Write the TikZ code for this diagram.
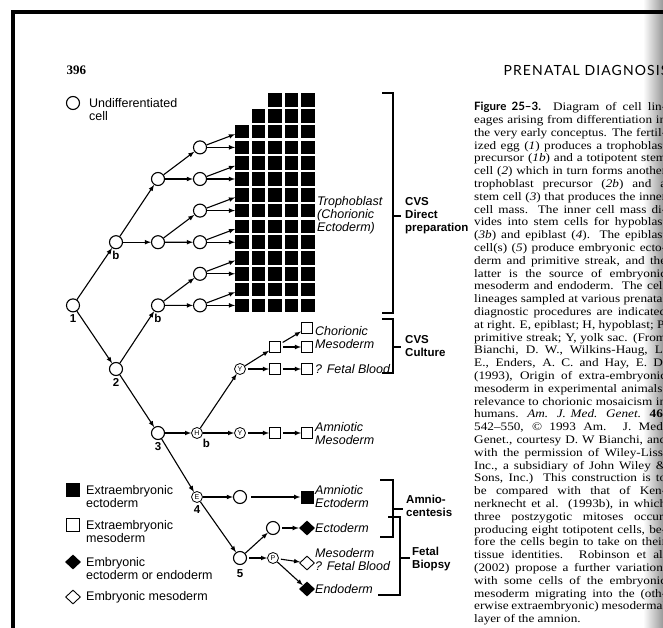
\documentclass[tikz,border=0pt]{standalone}
\usepackage{fontspec}
\setmainfont{Liberation Serif}
\setsansfont{Liberation Sans}
\newfontfamily\headfont[LetterSpace=8]{Lato}
\newfontfamily\figfont{Lato}
\newfontfamily\capfont[FakeStretch=1.15,Ligatures=TeX]{Liberation Serif}
\usetikzlibrary{shapes.geometric}

\def\capw{192pt}
\newcommand\capl[1]{\makebox[\capw][s]{#1}\\}

\tikzset{
  cell/.style={circle,draw,line width=1.1pt,minimum size=13pt,inner sep=0pt},
  tcell/.style={circle,draw,line width=0.8pt,minimum size=11pt,inner sep=0pt,font=\sffamily\fontsize{7}{7}\selectfont},
  ecto/.style={fill=black,minimum size=13.5pt,inner sep=0pt},
  meso/.style={draw,line width=0.9pt,minimum size=11pt,inner sep=0pt},
  embdia/.style={diamond,fill=black,minimum width=16pt,minimum height=15pt,inner sep=0pt},
  mesodia/.style={diamond,draw,line width=0.9pt,minimum width=15pt,minimum height=14pt,inner sep=0pt},
  num/.style={font=\sffamily\bfseries\fontsize{11.5}{11.5}\selectfont,inner sep=1pt},
  tis/.style={anchor=west,align=left,inner sep=0pt,font=\sffamily\itshape\fontsize{12.5}{13}\selectfont},
  proc/.style={anchor=west,align=left,inner sep=0pt,font=\sffamily\bfseries\fontsize{11.5}{13}\selectfont},
  legtxt/.style={anchor=west,align=left,inner sep=0pt,font=\sffamily\fontsize{12.5}{13}\selectfont},
  brk/.style={line width=1.4pt},
  lin/.style={->,line width=1.1pt}
}

\begin{document}
\begin{tikzpicture}[x=1pt,y=-1pt,>=latex]
\useasboundingbox (0,0) rectangle (663,628);
\shade[left color=white,right color=black!40] (643,0) rectangle (663,628);
\draw[line width=4pt] (13,628) -- (13,12) -- (663,12);

% page head
\node[anchor=west,font=\bfseries\fontsize{13}{13}\selectfont] (page) at (63,70) {396};
\node[anchor=west,font=\headfont\fontsize{14}{14}\selectfont] (head) at (500,70) {PRENATAL DIAGNOSIS};

% legend
\node[cell] (kcell) at (73,103) {};
\node[legtxt] at (89,109.5) {Undifferentiated\\cell};
\node[ecto] (kecto) at (73,490) {};
\node[legtxt] at (86,496.5) {Extraembryonic\\ectoderm};
\node[meso,minimum size=12.5pt] (kmeso) at (73,525) {};
\node[legtxt] at (86,531.5) {Extraembryonic\\mesoderm};
\node[embdia] (kemb) at (73,562) {};
\node[legtxt] at (86,568.5) {Embryonic\\ectoderm or endoderm};
\node[mesodia] (kmes) at (73,597) {};
\node[legtxt] at (86,597) {Embryonic mesoderm};

% trophoblast block
\foreach \c in {3,4,5} \node[ecto] (sq0-\c) at ({242+16.5*(\c-1)},100) {};
\foreach \c in {2,...,5} \node[ecto] (sq1-\c) at ({242+16.5*(\c-1)},115.8) {};
\foreach \r in {2,...,13}
  \foreach \c in {1,...,5}
    \node[ecto] (sq\r-\c) at ({242+16.5*(\c-1)},{100+15.8*\r}) {};

% cells
\node[cell,label={[num,label distance=1pt]below:1}] (n1) at (73,305.4) {};
\node[cell,label={[num,label distance=1pt]below:b}] (n1b) at (116,242.2) {};
\node[cell,label={[num,label distance=1pt]below:2}] (n2) at (116,369) {};
\node[cell,label={[num,label distance=1pt]below:b}] (n2b) at (158,305.4) {};
\node[cell,label={[num,label distance=1pt]below:3}] (n3) at (158,433) {};
\node[cell] (c1) at (158,179) {};
\node[cell] (c2) at (158,242.2) {};
\foreach \k in {1,...,6} \node[cell] (d\k) at (200,{100+15.8*(2*\k+1)}) {};

\node[tcell,label={[num,inner sep=0pt,label distance=2pt]below right:b}] (H) at (197,433) {H};
\node[tcell,label={[num,label distance=1pt]below:4}] (E) at (197,497) {E};
\node[tcell] (Y1) at (240,369) {Y};
\node[tcell] (Y2) at (240,433) {Y};
\node[cell] (e1) at (240,497) {};
\node[cell,label={[num,label distance=3pt]below:5}] (n5) at (240,558) {};
\node[cell] (f1) at (273,528) {};
\node[tcell] (P) at (273,558) {P};

% tissues
\node[meso] (q3) at (275,347) {};
\node[meso] (q4) at (307,347) {};
\node[meso] (q5) at (307,328) {};
\node[meso] (q1) at (275,369) {};
\node[meso] (q2) at (307,369) {};
\node[meso] (s1) at (275,433) {};
\node[meso] (s2) at (307,433) {};
\node[ecto,minimum size=13pt] (am) at (307,497) {};
\node[embdia] (ect) at (307,528) {};
\node[mesodia] (mes) at (307,563) {};
\node[embdia] (endo) at (307,589) {};

\node[tis] at (317,215) {Trophoblast\\(Chorionic\\Ectoderm)};
\node[tis] at (315,337.5) {Chorionic\\Mesoderm};
\node[tis] at (315,369) {? Fetal Blood};
\node[tis] at (315,433.5) {Amniotic\\Mesoderm};
\node[tis] at (315,497) {Amniotic\\Ectoderm};
\node[tis] at (315,528) {Ectoderm};
\node[tis] at (315,559.5) {Mesoderm\\? Fetal Blood};
\node[tis] at (315,589) {Endoderm};

% lineages
\draw[lin] (n1) -- (n1b);
\draw[lin] (n1) -- (n2);
\draw[lin] (n2) -- (n2b);
\draw[lin] (n2) -- (n3);
\draw[lin] (n1b) -- (c1);
\draw[lin] (n1b) -- (c2);
\draw[lin] (c1) -- (d1);
\draw[lin] (c1) -- (d2);
\draw[lin] (c2) -- (d3);
\draw[lin] (c2) -- (d4);
\draw[lin] (n2b) -- (d5);
\draw[lin] (n2b) -- (d6);
\foreach \k in {1,...,6}{
  \pgfmathtruncatemacro\ra{2*\k}
  \pgfmathtruncatemacro\rb{2*\k+1}
  \draw[lin] (d\k) -- (sq\ra-1);
  \draw[lin] (d\k) -- (sq\rb-1);
}
\draw[lin] (n3) -- (H);
\draw[lin] (n3) -- (E);
\draw[lin] (H) -- (Y1);
\draw[lin] (H) -- (Y2);
\draw[lin] (Y1) -- (q3);
\draw[lin,shorten <=2pt] (Y1) -- (q1);
\draw[lin,shorten <=2pt] (q1) -- (q2);
\draw[lin,shorten <=2pt] (q3) -- (q4);
\draw[lin,shorten <=2pt] (q3) -- (q5);
\draw[lin,shorten <=2pt] (Y2) -- (s1);
\draw[lin,shorten <=2pt] (s1) -- (s2);
\draw[lin] (E) -- (e1);
\draw[lin,shorten <=4pt] (e1) -- (am);
\draw[lin] (E) -- (n5);
\draw[lin] (n5) -- (f1);
\draw[lin,shorten <=2pt] (f1) -- (ect);
\draw[lin,shorten <=2pt] (n5) -- (P);
\draw[lin,shorten <=2pt] (P) -- (mes);
\draw[lin] (P) -- (endo);

% procedures
\draw[brk] (382,93) -- (393,93) -- (393,313) -- (382,313);
\draw[brk] (393,216) -- (401,216);
\node[proc] at (405,216) {CVS\\Direct\\preparation};
\draw[brk] (382,319) -- (393,319) -- (393,373) -- (382,373);
\draw[brk] (393,347) -- (401,347);
\node[proc] at (405,346) {CVS\\Culture};
\draw[brk] (380,480) -- (393,480) -- (393,537) -- (380,537);
\draw[brk] (393,509) -- (403,509);
\node[proc] at (406,506) {Amnio-\\centesis};
\draw[brk] (388,517) -- (400,517) -- (400,595) -- (378,595);
\draw[brk] (400,558) -- (410,558);
\node[proc] at (412,559) {Fetal\\Biopsy};

% caption
\node[anchor=north west,align=left,inner sep=0pt,font=\capfont\fontsize{11.5}{12.8}\selectfont] (cap) at (474,102) {%
\capl{{\figfont\bfseries Figure 25–3.}\ \ Diagram of cell lin-}
\capl{eages arising from differentiation in}
\capl{the very early conceptus. The fertil-}
\capl{ized egg (\textit{1}) produces a trophoblast}
\capl{precursor (\textit{1b}) and a totipotent stem}
\capl{cell (\textit{2}) which in turn forms another}
\capl{trophoblast precursor (\textit{2b}) and a}
\capl{stem cell (\textit{3}) that produces the inner}
\capl{cell mass. The inner cell mass di-}
\capl{vides into stem cells for hypoblast}
\capl{(\textit{3b}) and epiblast (\textit{4}). The epiblast}
\capl{cell(s) (\textit{5}) produce embryonic ecto-}
\capl{derm and primitive streak, and the}
\capl{latter is the source of embryonic}
\capl{mesoderm and endoderm. The cell}
\capl{lineages sampled at various prenatal}
\capl{diagnostic procedures are indicated}
\capl{at right. E, epiblast; H, hypoblast; P,}
\capl{primitive streak; Y, yolk sac. (From}
\capl{Bianchi, D. W., Wilkins-Haug, L.}
\capl{E., Enders, A. C. and Hay, E. D.}
\capl{(1993), Origin of extra-embryonic}
\capl{mesoderm in experimental animals:}
\capl{relevance to chorionic mosaicism in}
\capl{humans. \textit{Am. J. Med. Genet.} \textbf{46},}
\capl{542–550, © 1993 Am. J. Med.}
\capl{Genet., courtesy D. W Bianchi, and}
\capl{with the permission of Wiley-Liss,}
\capl{Inc., a subsidiary of John Wiley \&}
\capl{Sons, Inc.) This construction is to}
\capl{be compared with that of Ken-}
\capl{nerknecht et al. (1993b), in which}
\capl{three postzygotic mitoses occur,}
\capl{producing eight totipotent cells, be-}
\capl{fore the cells begin to take on their}
\capl{tissue identities. Robinson et al.}
\capl{(2002) propose a further variation,}
\capl{with some cells of the embryonic}
\capl{mesoderm migrating into the (oth-}
\capl{erwise extraembryonic) mesodermal}
layer of the amnion.};
\end{tikzpicture}
\end{document}
